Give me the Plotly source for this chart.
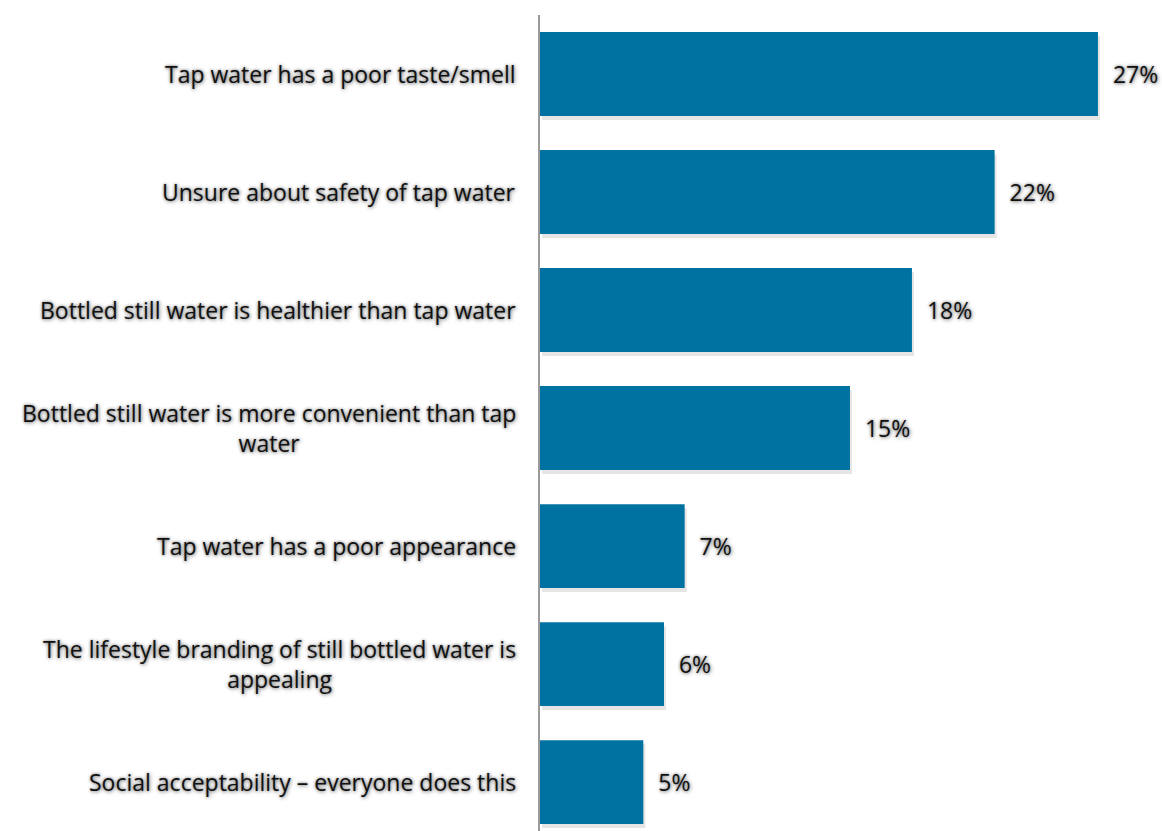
import plotly.graph_objects as go

reasons = [
    "Tap water has a poor taste/smell",
    "Unsure about safety of tap water",
    "Bottled still water is healthier than tap water",
    "Bottled still water is more convenient than tap<br>water",
    "Tap water has a poor appearance",
    "The lifestyle branding of still bottled water is<br>appealing",
    "Social acceptability \u2013 everyone does this",
]
shares = [27, 22, 18, 15, 7, 6, 5]
value_labels = [f"\u00a0\u00a0{v}%" for v in shares]

positions = list(range(len(reasons)))
BAR_COLOR = "#0072A1"
FONT = "Open Sans"
FONT_SIZE = 23
TEXT_SHADOW = "0px 0px 3px rgba(0,0,0,0.45), 1px 1px 4px rgba(0,0,0,0.4)"
bar_w = 0.71

fig = go.Figure()

# soft drop shadow under each bar
fig.add_trace(go.Bar(
    y=positions, x=shares, orientation="h",
    width=bar_w, offset=-bar_w / 2 + 0.035, base=0.1,
    marker=dict(color="rgba(0,0,0,0.10)", line=dict(width=0)),
    hoverinfo="skip", showlegend=False,
))

fig.add_trace(go.Bar(
    y=positions, x=shares, orientation="h",
    width=bar_w, offset=-bar_w / 2,
    marker=dict(color=BAR_COLOR, line=dict(width=0)),
    text=value_labels, textposition="outside", cliponaxis=False,
    textfont=dict(family=FONT, size=FONT_SIZE, color="#111", shadow=TEXT_SHADOW),
    showlegend=False,
))

for pos, label in zip(positions, reasons):
    fig.add_annotation(
        x=0, xref="paper", xanchor="right", xshift=-22,
        y=pos, yref="y", yanchor="middle",
        text=label, showarrow=False, align="center",
        font=dict(family=FONT, size=FONT_SIZE, color="#111", shadow=TEXT_SHADOW),
    )

fig.update_layout(
    width=1162, height=831,
    margin=dict(l=540, r=0, t=15, b=0),
    paper_bgcolor="white", plot_bgcolor="white",
    barmode="overlay",
    uniformtext=dict(mode=False),
    xaxis=dict(range=[0, 30.1], visible=False, fixedrange=True),
    yaxis=dict(
        range=[6.415, -0.5], showticklabels=False, showgrid=False,
        zeroline=False, showline=True, linecolor="#9a9a9a", linewidth=2,
        ticks="",
    ),
)

fig.write_html("out.html")
